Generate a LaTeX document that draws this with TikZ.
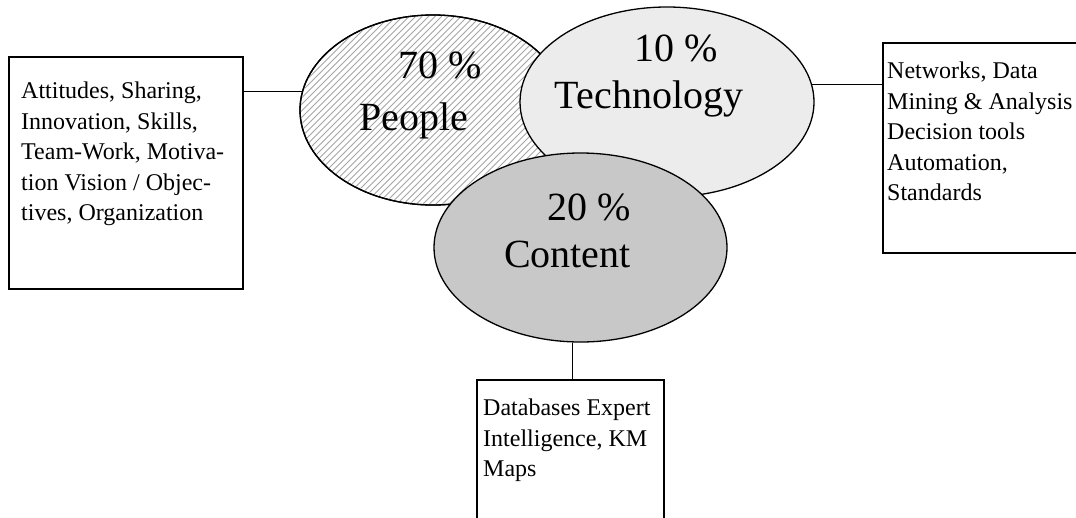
\documentclass[tikz,border=0pt]{standalone}
\usepackage{fontspec}
\setmainfont{Liberation Serif}
\usetikzlibrary{shapes.geometric}
\definecolor{techfill}{RGB}{236,236,236}
\definecolor{contfill}{RGB}{200,200,200}
\definecolor{hatchcol}{RGB}{165,165,165}
\begin{document}
\begin{tikzpicture}[x=1pt,y=-1pt,
  blob/.style={ellipse,draw=black,line width=1.3pt,inner sep=0pt},
  bigtxt/.style={anchor=base,inner sep=0pt,font=\fontsize{40}{44}\selectfont},
  boxframe/.style={rectangle,draw=black,line width=1.4pt,inner sep=0pt},
  boxtxt/.style={anchor=north west,inner sep=0pt,align=left,font=\fontsize{24}{30.5}\selectfont},
  hatchline/.style={draw=hatchcol,line width=0.9pt},
  link/.style={draw=black,line width=1.3pt}]
\useasboundingbox (0,0) rectangle (1076,517);
\clip (0,0) rectangle (1076,517);
\fill[white] (0,0) rectangle (1076,517);
% people ellipse with hatching
\node[blob,fill=white,minimum width=266pt,minimum height=190pt] (people) at (433,110) {};
\begin{scope}
  \clip (433,110) ellipse [x radius=132pt,y radius=94pt];
  \foreach \k in {100,106.5,...,600} {\draw[hatchline] (\k,215) -- ++(210,-210);}
\end{scope}
\draw[line width=1.3pt] (433,110) ellipse [x radius=133pt,y radius=95pt];
\node[blob,fill=techfill,minimum width=294pt,minimum height=190pt] (tech) at (667,102) {};
\node[blob,fill=contfill,minimum width=293pt,minimum height=189pt] (content) at (580.5,247.5) {};
% ellipse texts
\node[bigtxt] (p70) at (440,78) {70 \%};
\node[bigtxt] (ppl) at (414,130) {People};
\node[bigtxt] (t10) at (676,61) {10 \%};
\node[bigtxt] (tec) at (649,108) {Technology};
\node[bigtxt] (c20) at (589,220) {20 \%};
\node[bigtxt] (cnt) at (567.5,267) {Content};
% boxes
\node[boxframe,minimum width=234pt,minimum height=232pt] (lbox) at (126,173) {};
\node[boxframe,minimum width=220pt,minimum height=210pt] (rbox) at (993,148) {};
\node[boxframe,minimum width=187pt,minimum height=160pt] (bbox) at (570.5,460) {};
% box texts
\node[boxtxt] (ltxt) at (21,82) {Attitudes, Sharing,\\Innovation, Skills,\\Team-Work, Motiva-\\tion Vision / Objec-\\tives, Organization};
\node[boxtxt] (rtxt) at (887,62) {Networks, Data\\Mining \& Analysis\\Decision tools\\Automation,\\Standards};
\node[boxtxt] (btxt) at (483,399) {Databases Expert\\Intelligence, KM\\Maps};
% connectors
\draw[link] (lbox.east |- people.172.6) -- (people.172.6);
\draw[link] (tech.7.5) -- (rbox.west |- tech.7.5);
\draw[link] (content.-95) -- (bbox.north -| content.-95);
\end{tikzpicture}
\end{document}
